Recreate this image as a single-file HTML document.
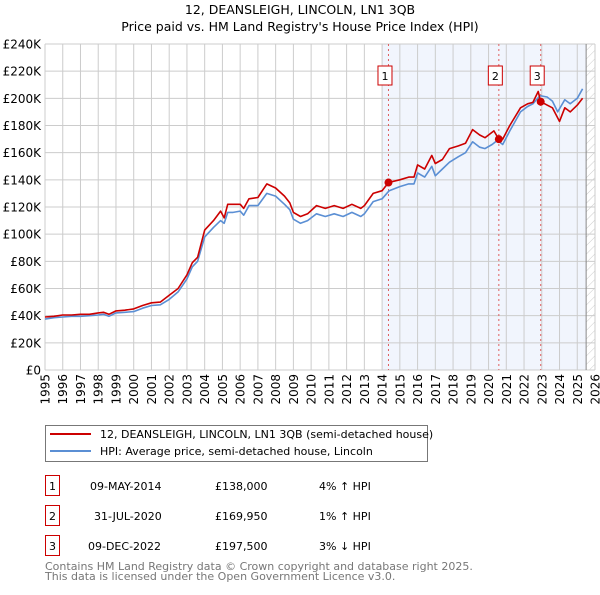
<!DOCTYPE html>
<html><head><meta charset="utf-8"><style>
body{margin:0;background:#fff;font-family:"Liberation Sans","DejaVu Sans",sans-serif;}
svg text{font-family:"DejaVu Sans","Liberation Sans",sans-serif;}
</style></head><body>
<svg id="chart" width="600" height="590" viewBox="0 0 600 590" xmlns="http://www.w3.org/2000/svg">
<defs><pattern id="hatch" width="6" height="6" patternUnits="userSpaceOnUse" patternTransform="rotate(45)"><line x1="0" y1="0" x2="0" y2="6" stroke="#ccc" stroke-width="1"/></pattern></defs>
<text x="300" y="14" text-anchor="middle" font-size="12.5">12, DEANSLEIGH, LINCOLN, LN1 3QB</text>
<text x="300" y="31" text-anchor="middle" font-size="12.5">Price paid vs. HM Land Registry's House Price Index (HPI)</text>
<g id="plot"></g>
<g>
<rect x="45.5" y="425.5" width="382" height="36" fill="#fff" stroke="#777"/>
<line x1="50" y1="434" x2="91" y2="434" stroke="#cc0000" stroke-width="2"/>
<text x="100" y="438" font-size="11">12, DEANSLEIGH, LINCOLN, LN1 3QB (semi-detached house)</text>
<line x1="50" y1="451" x2="91" y2="451" stroke="#5b8fd4" stroke-width="2"/>
<text x="100" y="455" font-size="11">HPI: Average price, semi-detached house, Lincoln</text>
</g>
<g font-size="11">
<rect x="45.5" y="475.5" width="14" height="20" fill="#fff" stroke="#c00"/><text x="52.5" y="490" text-anchor="middle">1</text>
<text x="90" y="490">09-MAY-2014</text><text x="215" y="490">£138,000</text><text x="319" y="490">4% ↑ HPI</text>
<rect x="45.5" y="505.5" width="14" height="20" fill="#fff" stroke="#c00"/><text x="52.5" y="520" text-anchor="middle">2</text>
<text x="94" y="520">31-JUL-2020</text><text x="215" y="520">£169,950</text><text x="319" y="520">1% ↑ HPI</text>
<rect x="45.5" y="535.5" width="14" height="20" fill="#fff" stroke="#c00"/><text x="52.5" y="550" text-anchor="middle">3</text>
<text x="88" y="550">09-DEC-2022</text><text x="215" y="550">£197,500</text><text x="319" y="550">3% ↓ HPI</text>
</g>
<text x="45" y="570" font-size="11" fill="#777">Contains HM Land Registry data © Crown copyright and database right 2025.</text>
<text x="45" y="580" font-size="11" fill="#777">This data is licensed under the Open Government Licence v3.0.</text>
</svg>
<script>
const yTicks=[0,20,40,60,80,100,120,140,160,180,200,220,240];
const xYears=[1995,1996,1997,1998,1999,2000,2001,2002,2003,2004,2005,2006,2007,2008,2009,2010,2011,2012,2013,2014,2015,2016,2017,2018,2019,2020,2021,2022,2023,2024,2025,2026];
const hpiYears=[1995,1995.5,1996,1996.5,1997,1997.5,1998,1998.3,1998.6,1999,1999.5,2000,2000.5,2001,2001.5,2002,2002.5,2003,2003.3,2003.6,2004,2004.5,2004.9,2005.1,2005.3,2005.6,2006,2006.2,2006.5,2007,2007.5,2008,2008.5,2008.8,2009,2009.4,2009.8,2010.3,2010.8,2011.3,2011.8,2012.3,2012.8,2013,2013.5,2014,2014.4,2015,2015.5,2015.8,2016,2016.4,2016.8,2017,2017.4,2017.8,2018.3,2018.7,2019.1,2019.5,2019.8,2020.2,2020.5,2020.8,2021.2,2021.8,2022.2,2022.5,2022.9,2023.3,2023.6,2023.9,2024.3,2024.6,2025,2025.3];
const hpiValues=[37.5,38.5,39,39.5,39.5,40,40.5,41,39.5,42,42.5,43,45.5,47.5,48,52,57.5,67,76,80,98,105,110,108,116,116,117,114,121,121,130,128,122,118,111,108,110,115,113,115,113,116,113,115,124,126,132,135,137,137,145,142,150,143,148,153,157,160,168,164,163,166,169,166,176,190,194,196,202,201,198,190,199,196,200,207];
const ppYears=[1995,1995.5,1996,1996.5,1997,1997.5,1998,1998.3,1998.6,1999,1999.5,2000,2000.5,2001,2001.5,2002,2002.5,2003,2003.3,2003.6,2004,2004.5,2004.9,2005.1,2005.3,2005.6,2006,2006.2,2006.5,2007,2007.5,2008,2008.5,2008.8,2009,2009.4,2009.8,2010.3,2010.8,2011.3,2011.8,2012.3,2012.8,2013,2013.5,2014,2014.36,2015,2015.5,2015.8,2016,2016.4,2016.8,2017,2017.4,2017.8,2018.3,2018.7,2019.1,2019.5,2019.8,2020.3,2020.58,2020.8,2021.2,2021.8,2022.2,2022.5,2022.8,2022.94,2023.3,2023.6,2024,2024.3,2024.6,2025,2025.3];
const ppValues=[39,39.5,40.5,40.5,41,41,42,42.5,41,43.5,44,45,47.5,49.5,50,55,60,70,79,83,103,110,117,112,122,122,122,119,126,127,137,134,128,123,116,113,115,121,119,121,119,122,119,121,130,132,138,140,142,142,151,148,158,152,155,163,165,167,177,173,171,176,169.95,170,180,193,196,197,205,197.5,195,193,183,193,190,195,200];
const sales=[{n:"1",year:2014.36,value:138},{n:"2",year:2020.58,value:169.95},{n:"3",year:2022.94,value:197.5}];
const NS="http://www.w3.org/2000/svg";
const g=document.getElementById('plot');
const X=y=>45+(y-1995)*(550/31);
const Y=v=>370-v*(326/240);
function el(t,a){const e=document.createElementNS(NS,t);for(const k in a)e.setAttribute(k,a[k]);g.appendChild(e);return e;}
let r=el('rect',{x:X(2014),y:44,width:X(2025.5)-X(2014),height:326,fill:'#eef3fc',opacity:'0.8'});


r=el('rect',{x:X(2025.5),y:44,width:X(2026)-X(2025.5),height:326,fill:'url(#hatch)'});


yTicks.forEach(v=>{
 let l=el('line',{x1:45,x2:X(2026),y1:Y(v),y2:Y(v),stroke:'#ccc','stroke-width':1});
 
 
 let t=el('text',{x:41,y:Y(v)+4.5,'text-anchor':'end','font-size':'12'});
 t.textContent=v===0?'£0':'£'+v+'K';
 
 
});
xYears.forEach(yr=>{
 let l=el('line',{x1:X(yr),x2:X(yr),y1:44,y2:370,stroke:'#ccc','stroke-width':1});
 
 
 let t=el('text',{x:0,y:0,'text-anchor':'end','font-size':'12',transform:`translate(${X(yr)+4.5},374) rotate(-90)`});
 t.textContent=yr;
 
 
});
let bl=el('line',{x1:X(2025.5),x2:X(2025.5),y1:44,y2:370,stroke:'#888','stroke-width':1});


sales.forEach(s=>{
 let l=el('line',{x1:X(s.year),x2:X(s.year),y1:44,y2:370,stroke:'#e06060','stroke-width':1,'stroke-dasharray':'2,3'});
 
 
});
function path(xs,vs,color,name){
 let d=xs.map((x,i)=>(i?'L':'M')+X(x).toFixed(1)+','+Y(vs[i]).toFixed(1)).join('');
 let p=el('path',{d:d,fill:'none',stroke:color,'stroke-width':1.6,'stroke-linejoin':'round'});
 
 
}
path(hpiYears,hpiValues,'#5b8fd4','hpi-line');
path(ppYears,ppValues,'#cc0000','price-paid-line');
sales.forEach(s=>{
 let c=el('circle',{cx:X(s.year),cy:Y(s.value),r:4,fill:'#cc0000'});
 
 
 let b=el('rect',{x:X(s.year)-10.5,y:66,width:14,height:19,fill:'#fff',stroke:'#c00'});
 
 
 let t=el('text',{x:X(s.year)-3.5,y:80,'text-anchor':'middle','font-size':'11'});
 t.textContent=s.n;
 
 
});
</script>
</body></html>
